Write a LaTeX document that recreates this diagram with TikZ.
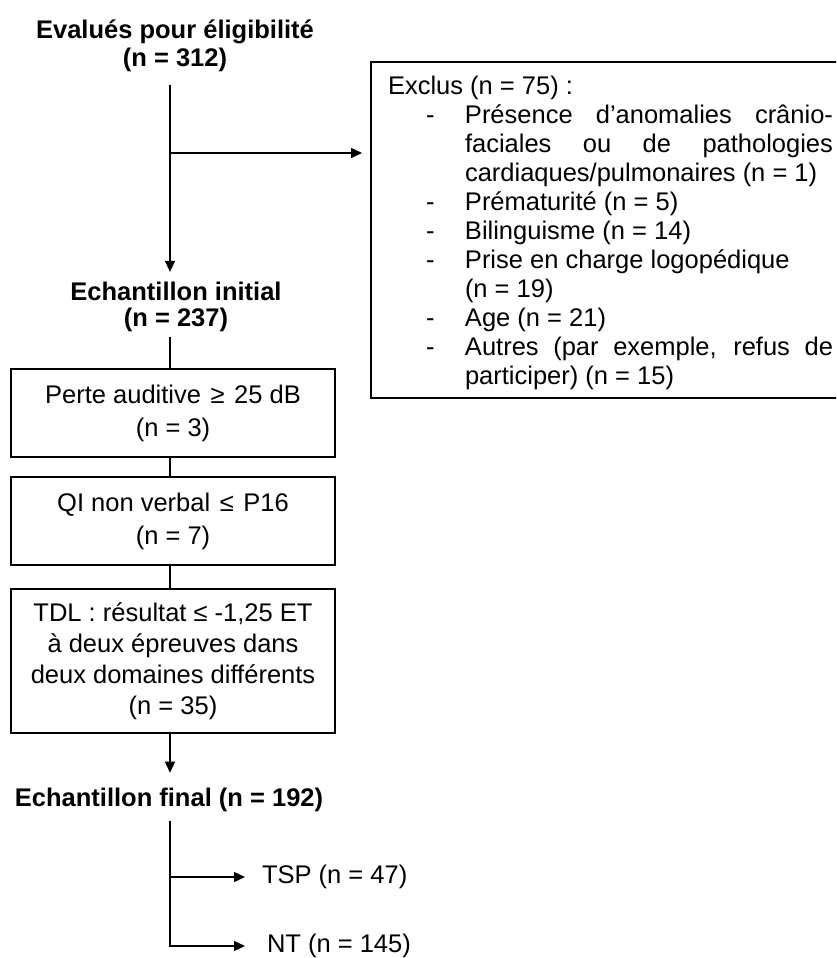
\documentclass[tikz,border=0pt]{standalone}
\usepackage{fontspec}
\setmainfont{Liberation Sans}
\usetikzlibrary{arrows.meta,calc}
\newcommand\dashitem{\makebox[77pt][l]{\hspace*{38pt}-}}
\newcommand\justline[1]{\makebox[368pt][s]{#1}}
\newcommand\symsp{\hspace{2.5pt}}
\begin{document}
\begin{tikzpicture}[x=1pt,y=-1pt,
  every node/.style={inner sep=0pt, outer sep=0pt, text=black},
  txt/.style={font=\fontsize{25.5}{29}\selectfont, align=center},
  bold/.style={font=\fontsize{25.5}{27.5}\selectfont\bfseries, align=center},
  crit/.style={draw, line width=1.5pt, minimum width=324pt, align=center},
  link/.style={line width=1.4pt},
  arr/.style={link, -{Triangle[length=11pt,width=10pt]}},
]
\useasboundingbox (0,0) rectangle (836,958);
\clip (0,0) rectangle (836,958);
\coordinate (spine) at (170,0);

\node[bold] (eval) at (175,46) {Evalués pour éligibilité\\(n = 312)};
\node[bold, font=\fontsize{25.5}{26.5}\selectfont\bfseries] (init) at (176,307) {Echantillon initial\\(n = 237)};

\node[crit, minimum height=88pt, font=\fontsize{25.5}{33}\selectfont] (b1) at (173,413) {Perte auditive \symsp ≥ \symsp 25 dB\\(n = 3)};
\node[crit, minimum height=88pt, font=\fontsize{25.5}{33}\selectfont] (b2) at (173,521) {QI non verbal \symsp ≤ \symsp P16\\(n = 7)};
\node[crit, minimum height=144pt, font=\fontsize{25.5}{31}\selectfont] (b3) at (173,661) {TDL : résultat ≤ -1,25 ET\\à deux épreuves dans\\deux domaines différents\\(n = 35)};

\node[bold] (final) at (169,800) {Echantillon final (n = 192)};
\node[txt, anchor=west] (tsp) at (262,877) {TSP (n = 47)};
\node[txt, anchor=west] (nt) at (267,946) {NT (n = 145)};

\node[draw, line width=1.5pt, minimum width=481pt, minimum height=336pt] (excl) at (611.5,230) {};
\node[anchor=base west, font=\fontsize{25.5}{29}\selectfont] (excltext) at (388,94) {\begin{tabular}[t]{@{}l@{}l@{}}
\multicolumn{2}{@{}l@{}}{Exclus (n = 75) :}\\
\dashitem & \justline{Présence d’anomalies crânio-}\\
 & \justline{faciales ou de pathologies}\\
 & cardiaques/pulmonaires (n = 1)\\
\dashitem & Prématurité (n = 5)\\
\dashitem & Bilinguisme (n = 14)\\
\dashitem & Prise en charge logopédique\\
 & (n = 19)\\
\dashitem & Age (n = 21)\\
\dashitem & \justline{Autres (par exemple, refus de}\\
 & participer) (n = 15)
\end{tabular}};

\coordinate (j1) at (170,153);
\draw[arr, shorten <=13pt, shorten >=10pt] (eval.south -| spine) -- (init.north -| spine);
\draw[arr, shorten >=9pt] (j1) -- (excl.west |- j1);
\draw[link, shorten <=5pt] (init.south -| spine) -- (b1.north -| spine);
\draw[link] (b1.south -| spine) -- (b2.north -| spine);
\draw[link] (b2.south -| spine) -- (b3.north -| spine);
\draw[arr, shorten >=15.4pt] (b3.south -| spine) -- (final.north -| spine);
\draw[arr, shorten <=9.6pt, shorten >=17pt] (final.south -| spine) |- (tsp.west);
\draw[arr, shorten <=9.6pt, shorten >=22pt] (final.south -| spine) |- (nt.west);
\end{tikzpicture}
\end{document}
